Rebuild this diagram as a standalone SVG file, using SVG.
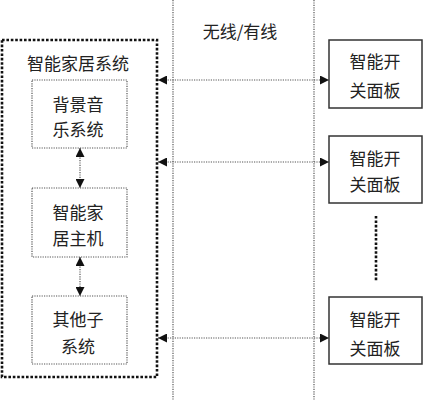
<svg xmlns="http://www.w3.org/2000/svg" width="425" height="400" viewBox="0 0 425 400">
<defs>
<style>
text{font-family:"Noto Sans CJK SC","Liberation Sans",sans-serif;font-size:17px;fill:#222;text-anchor:middle;dominant-baseline:central}
.fine{fill:none;stroke:#555;stroke-width:1.2;stroke-dasharray:1.2 1.2}
.thick{fill:none;stroke:#111;stroke-width:2.6;stroke-dasharray:2.6 1.8}
.solid{fill:#fff;stroke:#333;stroke-width:1.5}
</style>
<marker id="ah" viewBox="0 0 10 10" refX="10" refY="5" markerWidth="9" markerHeight="9" markerUnits="userSpaceOnUse" orient="auto-start-reverse">
<path d="M0,0 L10,5 L0,10 z" fill="#111"/>
</marker>
</defs>
<rect width="425" height="400" fill="#fff"/>
<g id="guides">
<line class="fine" x1="173" y1="0" x2="173" y2="400"/>
<line class="fine" x1="314" y1="0" x2="314" y2="400"/>
<text x="240" y="30">无线/有线</text>
</g>
<g id="system">
<rect class="thick" x="2" y="40" width="155" height="337"/>
<text x="78" y="62">智能家居系统</text>
</g>
<g id="music">
<rect class="fine" x="32" y="80" width="95" height="68"/>
<text x="78" y="103">背景音</text>
<text x="78" y="128">乐系统</text>
</g>
<g id="host">
<rect class="fine" x="32" y="188" width="95" height="69"/>
<text x="78" y="211">智能家</text>
<text x="78" y="237">居主机</text>
</g>
<g id="other">
<rect class="fine" x="32" y="296" width="95" height="68"/>
<text x="78" y="318">其他子</text>
<text x="78" y="345">系统</text>
</g>
<g id="panel1">
<rect class="solid" x="329" y="40" width="93" height="68"/>
<text x="375" y="60">智能开</text>
<text x="375" y="89">关面板</text>
</g>
<g id="panel2">
<rect class="solid" x="329" y="136" width="93" height="67"/>
<text x="375" y="157">智能开</text>
<text x="375" y="183">关面板</text>
</g>
<g id="panel3">
<rect class="solid" x="329" y="297" width="93" height="67"/>
<text x="375" y="318">智能开</text>
<text x="375" y="347">关面板</text>
</g>
<g id="connectors">
<line class="fine" x1="80" y1="148" x2="80" y2="188" marker-start="url(#ah)" marker-end="url(#ah)"/>
<line class="fine" x1="80" y1="257" x2="80" y2="296" marker-start="url(#ah)" marker-end="url(#ah)"/>
<line class="fine" x1="158" y1="80" x2="329" y2="80" marker-start="url(#ah)" marker-end="url(#ah)"/>
<line class="fine" x1="158" y1="162" x2="329" y2="162" marker-start="url(#ah)" marker-end="url(#ah)"/>
<line class="fine" x1="158" y1="338" x2="329" y2="338" marker-start="url(#ah)" marker-end="url(#ah)"/>
<line class="thick" x1="376" y1="216" x2="376" y2="281"/>
</g>
</svg>
